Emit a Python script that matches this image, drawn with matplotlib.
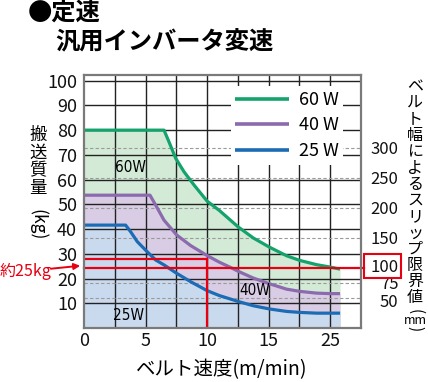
import numpy as np
import matplotlib
matplotlib.use("Agg")
import matplotlib.pyplot as plt
from matplotlib.patches import Rectangle, FancyArrowPatch
from matplotlib.transforms import ScaledTranslation

plt.rcParams['font.family'] = ['Noto Sans CJK JP', 'DejaVu Sans']

# ---------------- data (x in chart grid units, y in kg) ----------------
x60 = [0, 6.5, 6.9, 7.45, 8.12, 8.94, 10.0, 11.0, 12.54, 13.75, 15.06, 16.46, 17.55, 18.9, 20.04, 20.8]
y60 = [80, 80, 75.3, 68.6, 63.2, 57.8, 51.3, 47.5, 40.8, 36.4, 32.7, 29.2, 27.3, 25.6, 24.6, 23.8]

x40 = [0, 5.36, 5.82, 6.5, 7.53, 8.67, 10.0, 11.0, 11.86, 12.54, 13.75, 15.06, 16.46, 17.55, 18.9, 20.04, 20.8]
y40 = [53.7, 53.7, 49.7, 43.6, 37.6, 33.3, 29.3, 26.6, 24.6, 22.9, 20.2, 17.9, 15.7, 14.8, 14.1, 13.9, 13.9]

x25 = [0, 3.38, 3.79, 4.33, 5.0, 5.82, 6.5, 7.53, 8.67, 10.0, 11.0, 12.54, 13.75, 15.06, 16.46, 17.55, 18.9, 20.04, 20.8]
y25 = [41.6, 41.6, 38.9, 34.9, 31.5, 27.5, 25.5, 22.1, 18.7, 15.1, 13.1, 10.7, 9.0, 7.7, 6.7, 6.3, 6.0, 6.0, 6.0]

series_labels = ['60 W', '40 W', '25 W']
area_labels = ['60W', '40W', '25W']

xtick_pos = [0, 5, 10, 15, 20]
xtick_labels = ['0', '5', '10', '15', '25']
ytick_vals = [10, 20, 30, 40, 50, 60, 70, 80, 90, 100]
mm_ticks = [50, 75, 100, 150, 200, 250, 300]
mm_dashed = [50, 75, 150, 200, 250, 300]
KG_PER_MM = 0.243

example_speed = 10
example_load_top = 28.1
example_load = 24.3  # ~25 kg  (100 mm)

title1 = '●定速'
title2 = '汎用インバータ変速'
xlabel = 'ベルト速度(m/min)'
ylabel_chars = ['搬', '送', '質', '量']
ylabel_unit = '(kg)'
rlabel_chars = list('ベルト幅によるスリップ限界値')
rlabel_unit = 'mm'
note_text = '約25kg'

# ---------------- style ----------------
C_GREEN, F_GREEN = '#14a36c', '#d3ebd6'
C_PURPLE, F_PURPLE = '#8b6aae', '#d8cde4'
C_BLUE, F_BLUE = '#1b6cb5', '#cadaee'
C_RED = '#e60012'

W, H = 428, 382
fig = plt.figure(figsize=(W / 100, H / 100), dpi=100)
def fx(x): return x / W
def fy(y): return 1 - y / H

L, R, T, B = 84, 361, 75, 328
ax = fig.add_axes([fx(L), fy(B), (R - L) / W, (B - T) / H])
ax.set_xlim(0, 22.5)
ax.set_ylim(0, 102.3)

# fills (stacked opaque)
ax.fill_between(x60, 0, y60, color=F_GREEN, lw=0, zorder=1)
ax.fill_between(x40, 0, y40, color=F_PURPLE, lw=0, zorder=1.1)
ax.fill_between(x25, 0, y25, color=F_BLUE, lw=0, zorder=1.2)

# grid
for gx in np.arange(2.5, 22.5, 2.5):
    ax.axvline(gx, color='#222222', lw=1.0, zorder=2)
for gy in ytick_vals:
    ax.axhline(gy, color='#222222', lw=1.0, zorder=2)
for mm in mm_dashed:
    ax.axhline(mm * KG_PER_MM, color='#9a9a9a', lw=0.8, ls=(0, (3, 2)), zorder=2.1)

# curves
ax.plot(x60, y60, color=C_GREEN, lw=2.3, zorder=4, solid_capstyle='butt', label=series_labels[0])
ax.plot(x40, y40, color=C_PURPLE, lw=2.3, zorder=4, solid_capstyle='butt', label=series_labels[1])
ax.plot(x25, y25, color=C_BLUE, lw=2.3, zorder=4, solid_capstyle='butt', label=series_labels[2])

# red example lines
ax.plot([0, example_speed], [example_load_top, example_load_top], color=C_RED, lw=1.6, zorder=5)
ax.plot([example_speed, example_speed], [0, example_load_top], color=C_RED, lw=1.6, zorder=5)
ax.plot([0, 22.75], [example_load, example_load], color=C_RED, lw=1.6, zorder=5, clip_on=False)

# area labels (condensed look)
cond = dict(family=['DejaVu Sans'], fontstretch='condensed', fontsize=11)
ax.text(3.74, 64.7, area_labels[0], ha='center', va='center', zorder=6, **cond)
ax.text(13.89, 15.2, area_labels[1], ha='center', va='center', zorder=6, **cond)
ax.text(3.66, 5.1, area_labels[2], ha='center', va='center', zorder=6, **cond)

# axes styling
for s in ax.spines.values():
    s.set_color('#7a7a7a')
    s.set_linewidth(1.6)
    s.set_zorder(7)
ax.set_xticks(xtick_pos)
ax.set_xticklabels(xtick_labels)
ax.set_yticks(ytick_vals)
ax.tick_params(length=0, labelsize=13, colors='#111111')
ax.tick_params(axis='x', pad=3)
ax.tick_params(axis='y', pad=5)

# right axis (mm)
sec = ax.secondary_yaxis('right', functions=(lambda k: k / KG_PER_MM, lambda m: m * KG_PER_MM))
sec.set_yticks(mm_ticks)
sec.tick_params(length=0, labelsize=12, pad=27, colors='#111111')
sec.spines['right'].set_visible(False)
# nudge the crowded labels apart a little
nudge_px = {100: 2.5, 50: -2.5}
for val, tick in zip(mm_ticks, sec.yaxis.get_major_ticks()):
    for lab in (tick.label1, tick.label2):
        lab.set_horizontalalignment('right')
        if val in nudge_px:
            lab.set_transform(lab.get_transform() + ScaledTranslation(0, nudge_px[val] / 100, fig.dpi_scale_trans))

# legend
leg = ax.legend(loc='upper left', bbox_to_anchor=(0.53, 0.955), fontsize=13, frameon=True,
                facecolor='white', edgecolor='none', framealpha=1, borderaxespad=0,
                borderpad=0.25, handlelength=3.0, handletextpad=0.5, labelspacing=0.42,
                fancybox=False)
leg.set_zorder(8)
for ln in leg.get_lines():
    ln.set_linewidth(2.6)

# titles
fig.text(fx(28), fy(14), title1, fontsize=17.5, fontweight='bold', ha='left', va='center')
fig.text(fx(55), fy(42), title2, fontsize=17.5, fontweight='bold', ha='left', va='center')

# x label
fig.text(fx(222), fy(370), xlabel, fontsize=14, ha='center', va='center')

# left vertical label
for i, ch in enumerate(ylabel_chars):
    fig.text(fx(38), fy(135 + i * 17.8), ch, fontsize=12.5, ha='center', va='center')
fig.text(fx(38), fy(225), ylabel_unit, fontsize=12.5, ha='center', va='center', rotation=270)

# right vertical label
for i, ch in enumerate(rlabel_chars):
    fig.text(fx(415), fy(87 + i * 16.2), ch, fontsize=11.5, ha='center', va='center')
fig.text(fx(415), fy(312), '(', fontsize=11, ha='center', va='center', rotation=270)
fig.text(fx(415), fy(320), rlabel_unit, fontsize=9, ha='center', va='center')
fig.text(fx(415), fy(329), ')', fontsize=11, ha='center', va='center', rotation=270)

# red note and box
fig.text(fx(0), fy(271), note_text, fontsize=11.5, color=C_RED, ha='left', va='center')
fig.patches.append(FancyArrowPatch((fx(48), fy(269)), (fx(83), fy(265.5)), transform=fig.transFigure,
                                   arrowstyle='-|>', mutation_scale=9, color=C_RED, lw=1.4))
fig.patches.append(Rectangle((fx(364), fy(278)), 37 / W, 24 / H, transform=fig.transFigure,
                             fill=False, edgecolor=C_RED, lw=1.5))

fig.savefig('out.png', dpi=100)
